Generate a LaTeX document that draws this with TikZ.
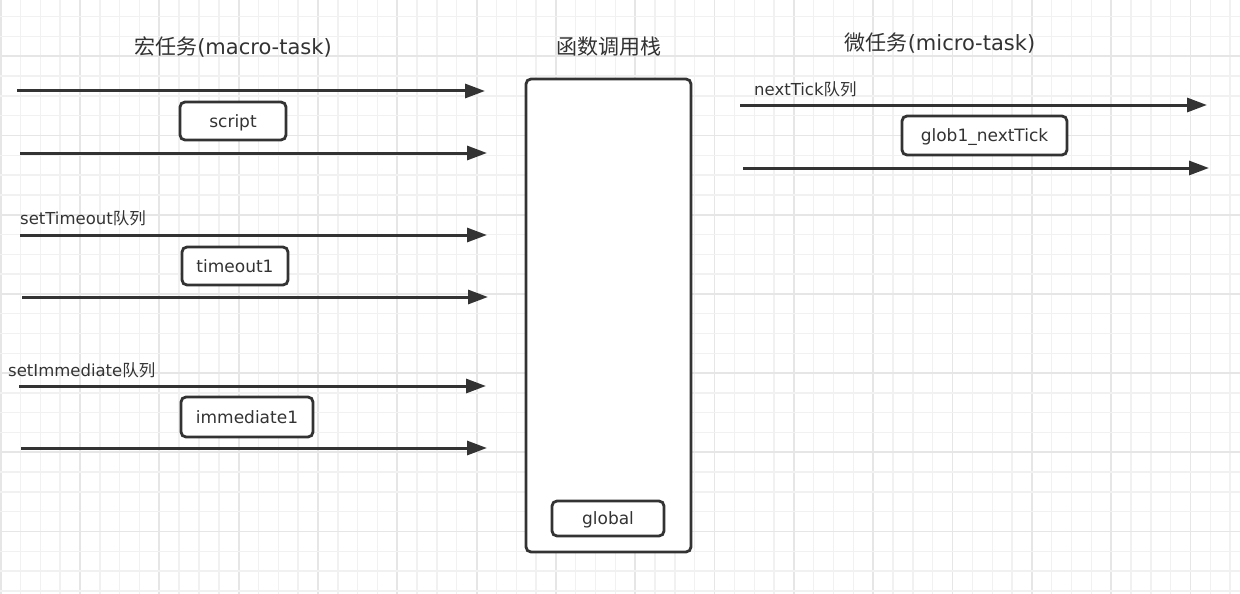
\documentclass[tikz,border=0pt]{standalone}
\usepackage{fontspec}
\setmainfont{DejaVu Sans}
\newfontfamily\cjk{Noto Sans CJK SC}
\usetikzlibrary{arrows.meta}
\definecolor{ink}{HTML}{333333}
\definecolor{gridminor}{HTML}{F1F1F1}
\definecolor{gridmajor}{HTML}{E6E6E6}
\tikzset{
  queue/.style={line width=3pt, draw=ink, -{Triangle[length=20pt,width=14pt]}},
  task/.style={draw=ink, line width=2.8pt, rounded corners=5pt, fill=white, text=ink,
    font=\fontsize{17}{20}\selectfont, inner sep=0pt, text height=14pt, text depth=2pt},
  heading/.style={text=ink, font=\fontsize{21}{24}\selectfont},
  qlabel/.style={text=ink, font=\fontsize{16.5}{19}\selectfont, anchor=west, inner sep=0pt}
}

\begin{document}
\begin{tikzpicture}[x=1pt, y=-1pt]
			%%%%% START %%%%%
			\useasboundingbox[fill=white] (0,0) rectangle (1240,594);
			
			% grid
			\foreach \i in {0,...,62} {
				\pgfmathsetmacro{\gx}{0.7+19.83*\i}
				\pgfmathtruncatemacro{\gm}{mod(\i,4)}
				\ifnum\gm=0
					\draw[gridmajor, line width=1.8pt] (\gx,0) -- (\gx,594);
				\else
					\draw[gridminor, line width=1.4pt] (\gx,0) -- (\gx,594);
				\fi
			}
			\foreach \j in {0,...,29} {
				\pgfmathsetmacro{\gy}{16.7+19.8*\j}
				\pgfmathtruncatemacro{\gm}{mod(\j,4)}
				\ifnum\gm=2
					\draw[gridmajor, line width=1.8pt] (0,\gy) -- (1240,\gy);
				\else
					\draw[gridminor, line width=1.4pt] (0,\gy) -- (1240,\gy);
				\fi
			}
			
			% headings
			\node[heading] (macro) at (233,47) {{\cjk 宏任务}(macro-task)};
			\node[heading] (stack) at (609,47) {\cjk 函数调用栈};
			\node[heading] (micro) at (940,43) {{\cjk 微任务}(micro-task)};
			
			% queues
			\foreach \name/\xa/\xb/\yy in {scriptin/17/485/91, scriptout/20/487/153,
				timeoutin/20/487/235, timeoutout/22/488/297,
				immediatein/19/486/386, immediateout/21/487/448,
				tickin/740/1207/105, tickout/743/1209/168} {
				\coordinate (\name-s) at (\xa,\yy);
				\coordinate (\name-e) at (\xb,\yy);
				\draw[queue] (\name-s) -- (\name-e);
			}
			
			\node[qlabel] (timeoutlbl) at (20,218) {setTimeout{\cjk 队列}};
			\node[qlabel] (immediatelbl) at (8,370) {setImmediate{\cjk 队列}};
			\node[qlabel] (ticklbl) at (754,89) {nextTick{\cjk 队列}};
			
			\node[task, minimum width=106pt, minimum height=38pt] (script) at (233,121) {script};
			\node[task, minimum width=106pt, minimum height=38pt] (timeout1) at (235,266) {timeout1};
			\node[task, minimum width=132pt, minimum height=40pt] (immediate1) at (247,417) {immediate1};
			\node[task, minimum width=165pt, minimum height=39pt] (nexttick) at (984.5,135.5) {glob1\_nextTick};
			
			% call stack
			\node[task, minimum width=165pt, minimum height=473pt] (callstack) at (608.5,315.5) {};
			\node[task, minimum width=112pt, minimum height=35pt] (global) at (608,518.5) {global};
			
			%%%%% END %%%%%
		\end{tikzpicture}
\end{document}
